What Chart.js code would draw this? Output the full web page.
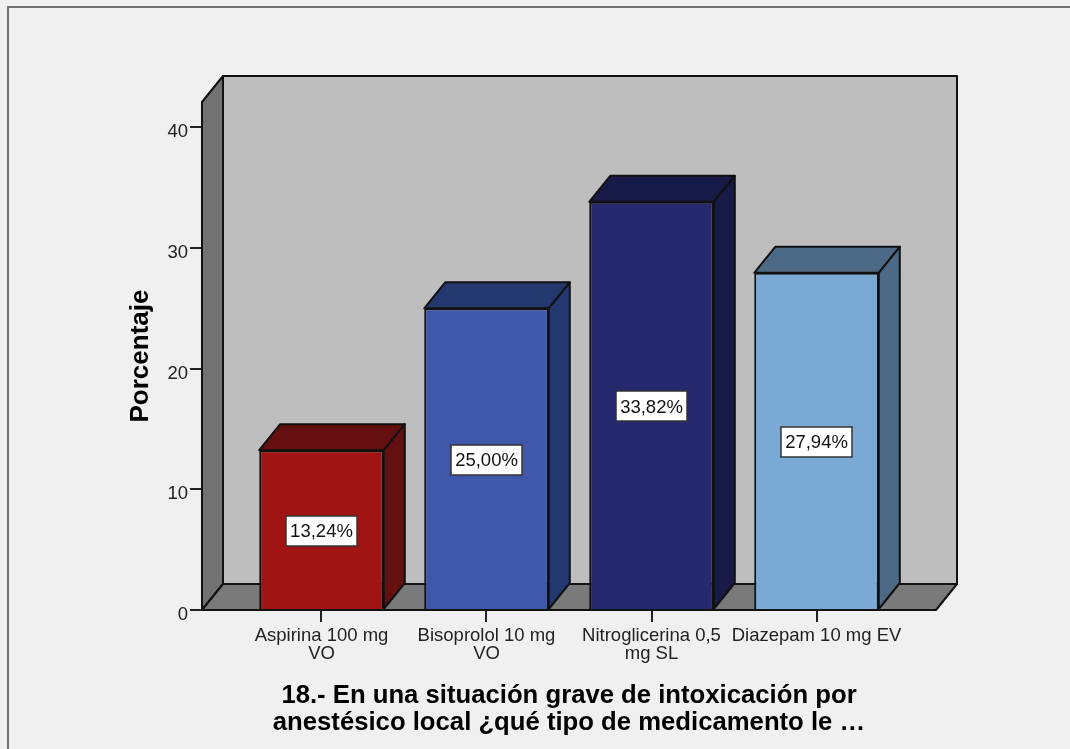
<!DOCTYPE html>
<html><head><meta charset="utf-8">
<style>html,body{margin:0;padding:0;background:#f0f0f0}canvas{display:block;filter:blur(0.4px)}</style>
<script src="https://cdn.jsdelivr.net/npm/chart.js@4"></script>
</head><body><canvas id="c" width="1070" height="749"></canvas>
<script>
const categories = [["Aspirina 100 mg","VO"],["Bisoprolol 10 mg","VO"],["Nitroglicerina 0,5","mg SL"],["Diazepam 10 mg EV"]];
const values = [13.24, 25.00, 33.82, 27.94];
const frontColors = ["#a01414","#3f58aa","#27296f","#7ba9d6"];
const darkColors = ["#651010","#22386f","#181a47","#4c6a86"];
const yTicks = [0,10,20,30,40];
const xTitle = ["18.- En una situación grave de intoxicación por","anestésico local ¿qué tipo de medicamento le …"];
const yTitle = "Porcentaje";
const DX = 21, DY = 26, LINE = "#111";

function poly(ctx, pts, fill){
  ctx.beginPath();
  pts.forEach((p,i)=> i?ctx.lineTo(p[0],p[1]):ctx.moveTo(p[0],p[1]));
  ctx.closePath();
  if(fill){ctx.fillStyle=fill;ctx.fill();}
  ctx.lineWidth=2;ctx.strokeStyle=LINE;ctx.lineJoin="round";ctx.stroke();
}
const box3d = {
  id:"box3d",
  beforeDraw(chart){
    const c=chart.ctx;
    c.save();
    c.fillStyle="#f0f0f0";c.fillRect(0,0,chart.width,chart.height);
    c.strokeStyle="#707070";c.lineWidth=2;
    c.strokeRect(8,7,chart.width+20,chart.height+20);
    c.restore();
  },
  beforeDatasetsDraw(chart){
    const c=chart.ctx,a=chart.chartArea;
    c.save();
    poly(c,[[a.left+DX,a.top-DY],[a.right+DX,a.top-DY],[a.right+DX,a.bottom-DY],[a.left+DX,a.bottom-DY]],"#bebebe");
    poly(c,[[a.left,a.top],[a.left+DX,a.top-DY],[a.left+DX,a.bottom-DY],[a.left,a.bottom]],"#727272");
    poly(c,[[a.left,a.bottom],[a.left+DX,a.bottom-DY],[a.right+DX,a.bottom-DY],[a.right,a.bottom]],"#7a7a7a");
    chart.getDatasetMeta(0).data.forEach((b,i)=>{
      const l=b.x-b.width/2,r=b.x+b.width/2,t=b.y,bt=b.base;
      poly(c,[[l,t],[l+DX,t-DY],[r+DX,t-DY],[r,t]],darkColors[i]);
      poly(c,[[r,t],[r+DX,t-DY],[r+DX,bt-DY],[r,bt]],darkColors[i]);
    });
    c.restore();
  },
  afterDatasetsDraw(chart){
    const c=chart.ctx;
    c.save();
    c.font="18.5px 'Liberation Sans'";
    c.textAlign="center";c.textBaseline="middle";
    chart.getDatasetMeta(0).data.forEach((b,i)=>{
      const y=(b.y+b.base)/2+1, w=71,h=30;
      c.fillStyle="#fff";c.fillRect(Math.round(b.x-w/2),Math.round(y-h/2),w,h);
      c.strokeStyle="#333";c.lineWidth=1.5;c.strokeRect(Math.round(b.x-w/2),Math.round(y-h/2),w,h);
      c.fillStyle="#111";
      c.fillText(values[i].toFixed(2).replace(".",",")+"%",b.x,y+1);
    });
    c.restore();
  }
};
new Chart(document.getElementById("c"),{
  type:"bar",
  data:{datasets:[{
    data:values.map((v,i)=>({x:i,y:v})),
    backgroundColor:frontColors,
    borderColor:LINE,borderWidth:2,
    barPercentage:0.755,categoryPercentage:1
  }]},
  plugins:[box3d],
  options:{
    responsive:false,animation:false,
    layout:{padding:{top:102,right:134,left:0,bottom:0}},
    plugins:{legend:{display:false},tooltip:{enabled:false},title:{display:false}},
    scales:{
      x:{type:"linear",min:-0.7242,max:3.7242,offset:false,
        afterBuildTicks(s){s.ticks=categories.map((_,i)=>({value:i}));},
        afterFit(s){s.height=139;},
        grid:{display:true,offset:false,drawOnChartArea:false,drawTicks:true,tickLength:12,color:"#222",lineWidth:2},
        border:{display:false},
        ticks:{autoSkip:false,maxRotation:0,padding:5,color:"#222",
          font:{family:"'Liberation Sans'",size:18.5,lineHeight:0.97},
          callback:v=>categories[v]},
        title:{display:true,text:xTitle,color:"#000",
          font:{family:"'Liberation Sans'",size:25.7,weight:"bold",lineHeight:1.05},
          padding:{top:0,bottom:13}}
      },
      y:{min:0,max:42.09,
        afterBuildTicks(s){s.ticks=yTicks.map(v=>({value:v}));},
        afterFit(s){s.width=202;},
        grid:{display:true,drawOnChartArea:false,drawTicks:true,tickLength:12,color:"#222",lineWidth:2},
        border:{display:false},
        ticks:{padding:2,labelOffset:5,color:"#222",font:{family:"'Liberation Sans'",size:18.5}},
        title:{display:true,text:yTitle,color:"#000",
          font:{family:"'Liberation Sans'",size:26,weight:"bold"},
          padding:{top:125,bottom:0}}
      }
    }
  }
});
</script></body></html>
